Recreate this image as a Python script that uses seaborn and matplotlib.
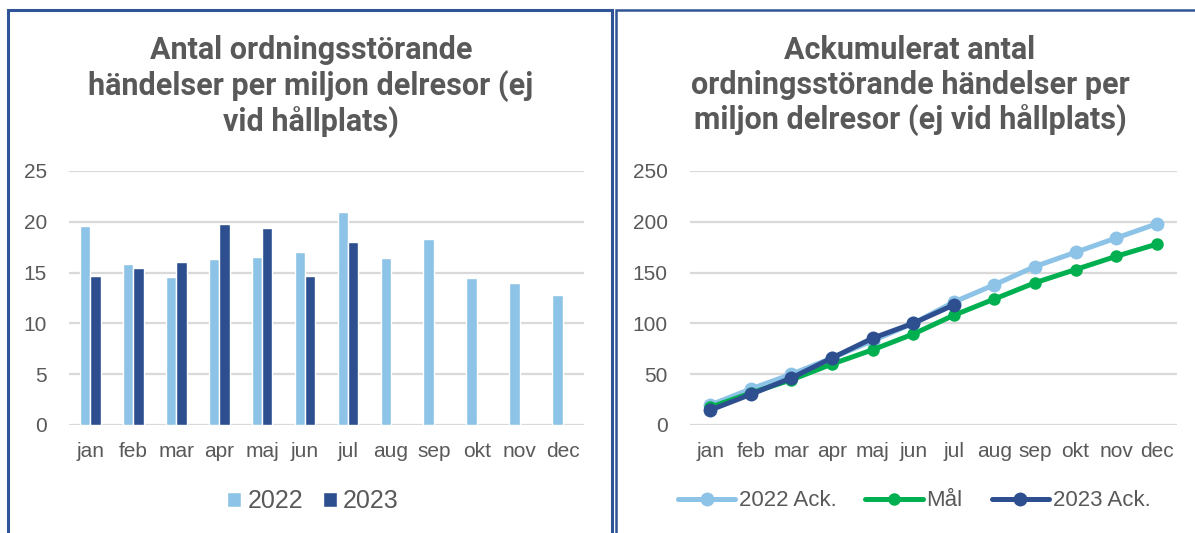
import numpy as np
import pandas as pd
import matplotlib
matplotlib.use("Agg")
import matplotlib.pyplot as plt
from matplotlib.patches import Rectangle
import seaborn as sns

months = ["jan", "feb", "mar", "apr", "maj", "jun", "jul", "aug", "sep", "okt", "nov", "dec"]

# monthly values (per million trips)
monthly_2022 = [19.6, 15.8, 14.6, 16.3, 16.5, 17.0, 21.0, 16.4, 18.3, 14.5, 14.0, 12.8]
monthly_2023 = [14.7, 15.5, 16.0, 19.8, 19.4, 14.7, 18.0, None, None, None, None, None]

# accumulated values
ack_2022 = [19.7, 35.5, 50.0, 66.0, 83.0, 100.0, 121.0, 138.0, 156.0, 170.0, 184.0, 198.0]
ack_mal = [17.5, 31.5, 44.5, 60.0, 74.0, 89.5, 108.0, 124.0, 140.0, 153.0, 166.0, 178.0]
ack_2023 = [14.7, 30.2, 46.3, 66.0, 85.4, 100.1, 118.2, None, None, None, None, None]

LIGHT = "#8DC3E6"
DARK = "#2E4F8F"
GREEN = "#00B050"
TEXT = "#595959"
BORDER = "#2F5597"
GRID = "#D9D9D9"

sns.set_theme(style="white")
plt.rcParams["font.family"] = ["Liberation Sans", "DejaVu Sans"]

fig = plt.figure(figsize=(11.95, 5.33), dpi=100)
W, H = 1195, 533


def px(x0, y0, x1, y1):
    return [x0 / W, 1 - y1 / H, (x1 - x0) / W, (y1 - y0) / H]


# panel borders
for x0, x1 in [(7.5, 612), (616, 1200)]:
    fig.patches.append(Rectangle((x0 / W, -0.1), (x1 - x0) / W, 1 - 10.5 / H + 0.1,
                                 transform=fig.transFigure, fill=False,
                                 edgecolor=BORDER, lw=2.2 if x0 < 10 else 1.8))

title_font = dict(family=["Roboto", "DejaVu Sans"], fontweight="bold",
                  color=TEXT, fontsize=22, ha="center", va="top", linespacing=1.21)
fig.text(311 / W, 1 - 35 / H, "Antal ordningsstörande\nhändelser per miljon delresor (ej\nvid hållplats)",
         **title_font)
fig.text(910 / W, 1 - 35 / H, "Ackumulerat antal\nordningsstörande händelser per\nmiljon delresor (ej vid hållplats)",
         **title_font)

# ---- bar chart
bar_df = pd.DataFrame({
    "month": months * 2,
    "year": ["2022"] * 12 + ["2023"] * 12,
    "value": monthly_2022 + monthly_2023,
})
ax1 = fig.add_axes(px(69, 171, 584, 425))
sns.barplot(data=bar_df, x="month", y="value", hue="year", palette=[LIGHT, DARK],
            width=0.48, ax=ax1, legend=True, saturation=1)
ax1.set_ylim(0, 25)
ax1.set_xlim(-0.5, 11.5)
ax1.set_yticks(range(0, 26, 5))

# ---- line chart
line_df = pd.DataFrame({
    "month": list(range(12)) * 3,
    "series": ["2022 Ack."] * 12 + ["Mål"] * 12 + ["2023 Ack."] * 12,
    "value": ack_2022 + ack_mal + ack_2023,
})
ax2 = fig.add_axes(px(690, 171, 1177, 425))
for name, color in [("2022 Ack.", LIGHT), ("Mål", GREEN), ("2023 Ack.", DARK)]:
    sub = line_df[line_df["series"] == name].dropna()
    sns.lineplot(data=sub, x="month", y="value", color=color, lw=3.6, marker="o",
                 markersize=10 if name != "Mål" else 9, markeredgewidth=0,
                 label=name, ax=ax2)
ax2.set_ylim(0, 250)
ax2.set_xlim(-0.5, 11.5)
ax2.set_xticks(range(12))
ax2.set_xticklabels(months)
ax2.set_yticks(range(0, 251, 50))

for ax in (ax1, ax2):
    ax.set_xlabel("")
    ax.set_ylabel("")
    sns.despine(ax=ax, left=True, bottom=True)
    ax.grid(axis="y", color=GRID, lw=1.6)
    ax.set_axisbelow(True)
    ax.tick_params(axis="both", length=0, labelsize=15, colors=TEXT)
    ax.tick_params(axis="y", pad=16)
    ax.tick_params(axis="x", pad=12)
    ax.set_facecolor("none")

ax1.legend(loc="center", bbox_to_anchor=(313 / W, 1 - 501 / H), bbox_transform=fig.transFigure,
           ncol=2, frameon=False, fontsize=18, labelcolor=TEXT, handlelength=0.55,
           handleheight=0.55, handletextpad=0.25, columnspacing=0.8)
ax2.legend(loc="center", bbox_to_anchor=(914 / W, 1 - 501 / H), bbox_transform=fig.transFigure,
           ncol=3, frameon=False, fontsize=16, labelcolor=TEXT, handlelength=2.6,
           handletextpad=0.15, columnspacing=1.3)

fig.savefig("out.png", dpi=100)
